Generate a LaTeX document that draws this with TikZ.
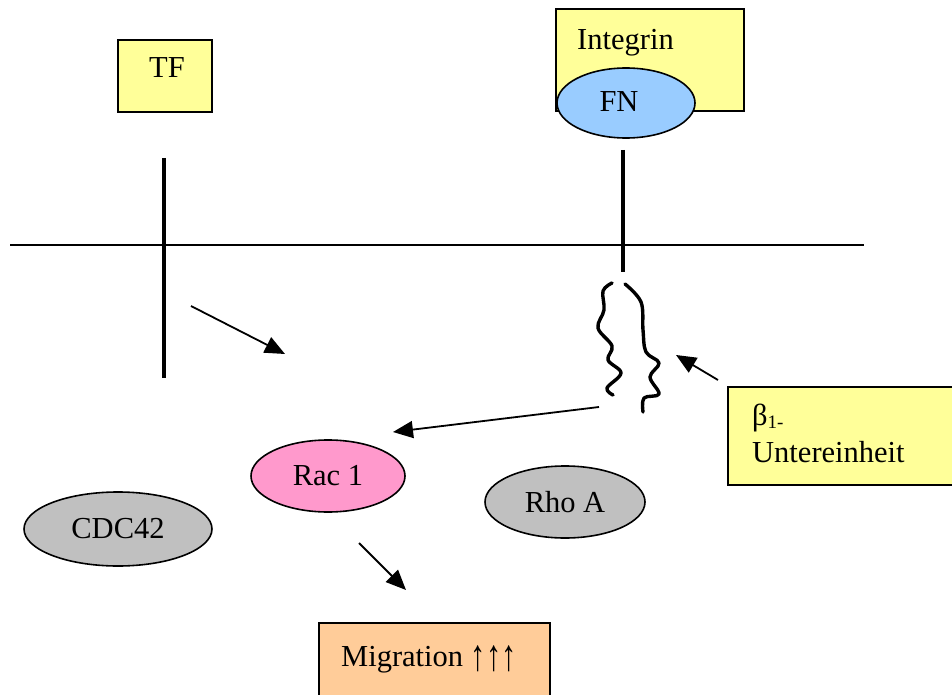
\documentclass[tikz,border=0pt]{standalone}
\usepackage{fontspec}
\setmainfont{Liberation Serif}
\usetikzlibrary{arrows.meta,shapes.geometric}
\definecolor{paleyellow}{HTML}{FFFF99}
\definecolor{paleblue}{HTML}{99CCFF}
\definecolor{palepink}{HTML}{FF99CC}
\definecolor{palegray}{HTML}{C0C0C0}
\definecolor{paleorange}{HTML}{FFCC99}
\newcommand{\tallup}{\raisebox{-4pt}{\scalebox{1}[1.45]{↑}}}
\begin{document}
\begin{tikzpicture}[x=1pt,y=-1pt,
  txt/.style={font=\fontsize{30.5}{36}\selectfont, inner sep=0pt},
  box/.style={draw=black, line width=2pt},
  oval/.style={ellipse, draw=black, line width=1.6pt, inner sep=0pt,
    font=\fontsize{30.5}{36}\selectfont},
  arr/.style={line width=1.8pt, -{Triangle[length=20pt,width=17pt]}},
  wave/.style={line width=3.4pt, line cap=round, line join=round}]
\clip (0,0) rectangle (952,695);
\fill[white] (0,0) rectangle (952,695);

% cell membrane
\coordinate (memL) at (10,245);
\coordinate (memR) at (864,245);
\draw[line width=1.5pt] (memL) -- (memR);

% tissue factor
\draw[box, fill=paleyellow] (118,40) rectangle (212,112);
\node[txt, anchor=base] (tf) at (167,78) {TF};
\coordinate (tfTop) at (164,158);
\coordinate (tfBot) at (164,378);
\draw[line width=3.5pt] (tfTop) -- (tfBot);

% integrin with bound fibronectin
\draw[box, fill=paleyellow] (556,9) rectangle (744,111);
\node[txt, anchor=base west] (integrin) at (577,50) {Integrin};
\node[oval, fill=paleblue, minimum width=138pt, minimum height=70pt] (fn) at (626,103) {};
\node[txt, anchor=base] (fnlabel) at (619,112) {FN};
\coordinate (stemTop) at (623,150);
\coordinate (stemBot) at (623,272);
\draw[line width=4.5pt] (stemTop) -- (stemBot);

% beta-1 subunit tails
\draw[wave] plot[smooth, tension=0.6] coordinates {(612,283) (603,291) (604,310) (598,328) (612,346) (608,360) (621,373) (607,388) (613,395)};
\draw[wave] plot[smooth, tension=0.6] coordinates {(625,284) (641,302) (643,330) (646,352) (659,363) (650,377) (659,394) (644,398) (643,412)};

% GTPases
\node[oval, fill=palepink, minimum width=154pt, minimum height=72pt] (rac) at (328,476) {Rac 1};
\node[oval, fill=palegray, minimum width=160pt, minimum height=72pt] (rho) at (565,502) {Rho A};
\node[oval, fill=palegray, minimum width=188pt, minimum height=74pt] (cdc) at (118,529) {CDC42};

% beta-1 label box
\draw[box, fill=paleyellow] (728,387) rectangle (970,485);
\node[txt, anchor=base west] (beta) at (752,425) {β\raisebox{-3pt}{\fontsize{19}{22}\selectfont 1-}};
\node[txt, anchor=base west] (unter) at (752,462) {Untereinheit};

% outcome
\draw[box, fill=paleorange] (319,623) rectangle (550,710);
\node[txt, anchor=base west] (migr) at (341,666) {Migration \tallup\tallup\tallup};

% signalling arrows
\coordinate (a1s) at (191,306);
\coordinate (a1e) at (285,354);
\draw[arr] (a1s) -- (a1e);
\coordinate (a2s) at (599,407);
\coordinate (a2e) at (393,432);
\draw[arr] (a2s) -- (a2e);
\coordinate (a3s) at (718,380);
\coordinate (a3e) at (676,355);
\draw[arr] (a3s) -- (a3e);
\coordinate (a4s) at (359,543);
\coordinate (a4e) at (406,590);
\draw[arr] (a4s) -- (a4e);
\end{tikzpicture}
\end{document}
